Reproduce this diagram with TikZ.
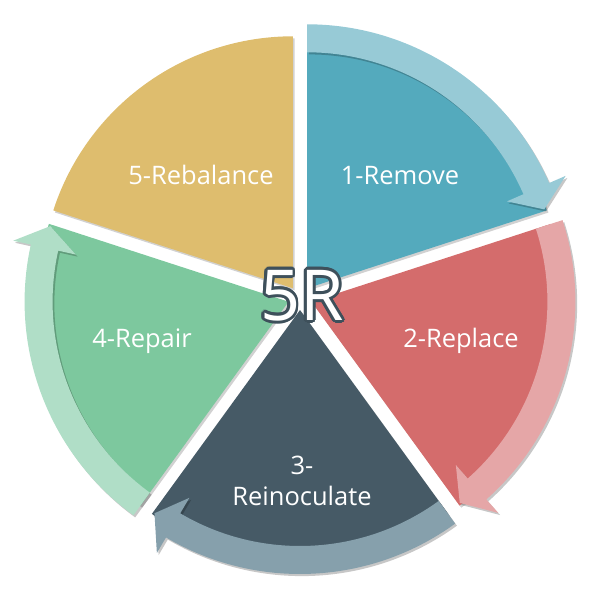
\documentclass[tikz,border=0pt]{standalone}
\usepackage{fontspec}
\setmainfont{Open Sans}
\usepackage{contour}
\usetikzlibrary{calc,shadows}
\definecolor{removeteal}{HTML}{54AABD}
\definecolor{removelight}{HTML}{97CAD6}
\definecolor{replacered}{HTML}{D46C6C}
\definecolor{replacelight}{HTML}{E5A6A7}
\definecolor{reinocslate}{HTML}{465A66}
\definecolor{reinoclight}{HTML}{86A0AC}
\definecolor{repairgreen}{HTML}{7DC89E}
\definecolor{repairlight}{HTML}{B0DEC7}
\definecolor{rebalyellow}{HTML}{DEBD6E}
\definecolor{outlineslate}{HTML}{3E505B}
\tikzstyle{sector}=[drop shadow={shadow xshift=1pt,shadow yshift=-1.2pt,opacity=.18,fill=black}]
\tikzstyle{cyclearrow}=[drop shadow={shadow xshift=1pt,shadow yshift=-1.2pt,opacity=.22,fill=black}]
\tikzstyle{steplabel}=[text=white,font=\fontsize{14.5}{18}\selectfont,align=center]
\def\gap{12}   % how far each sector is pushed out from the centre
\def\rad{252}  % sector radius
\newcommand{\drawsector}[2]{% #1 colour, #2 start angle (runs 72 degrees clockwise)
\pgfmathsetmacro{\midang}{#2-36}
\fill[sector,fill=#1] (\midang:\gap) -- ++(#2:\rad) arc (#2:#2-72:\rad) -- cycle;
}
\newcommand{\drawcyclearrow}[2]{% #1 colour, #2 start angle
\pgfmathsetmacro{\midang}{#2-36}
\pgfmathsetmacro{\tipang}{#2-72+0.4}
\pgfmathsetmacro{\headang}{#2-72+5.5}
\begin{scope}[shift={(\midang:\gap)}]
\fill[cyclearrow,fill=#1] (#2:264) arc (#2:\headang:264) -- (\headang:282) -- (\tipang:250)
  -- (\headang:218) -- (\headang:236) arc (\headang:#2:236) -- cycle;
\end{scope}
}
\begin{document}
\begin{tikzpicture}[x=0.02cm,y=0.02cm]
\useasboundingbox (-300,-302) rectangle (300,298);
% sectors, clockwise from the top
\drawsector{removeteal}{90}
\drawsector{replacered}{18}
\drawsector{reinocslate}{-54}
\drawsector{repairgreen}{-126}
\drawsector{rebalyellow}{-198}
% arrows round the rim (none on 5)
\drawcyclearrow{removelight}{90}
\drawcyclearrow{replacelight}{18}
\drawcyclearrow{reinoclight}{-54}
\drawcyclearrow{repairlight}{-126}
% labels
\node[steplabel] (remove) at (100,122) {1-Remove};
\node[steplabel] (replace) at (161,-43) {2-Replace};
\node[steplabel] (reinoculate) at (2,-183) {3-\\Reinoculate};
\node[steplabel] (repair) at (-158,-43) {4-Repair};
\node[steplabel] (rebalance) at (-99,123) {5-Rebalance};
\contourlength{1.6pt}
\node[text=white,font=\fontsize{40}{40}\selectfont] (fiver) at (2,1) {\contour{outlineslate}{5R}};
\end{tikzpicture}
\end{document}
